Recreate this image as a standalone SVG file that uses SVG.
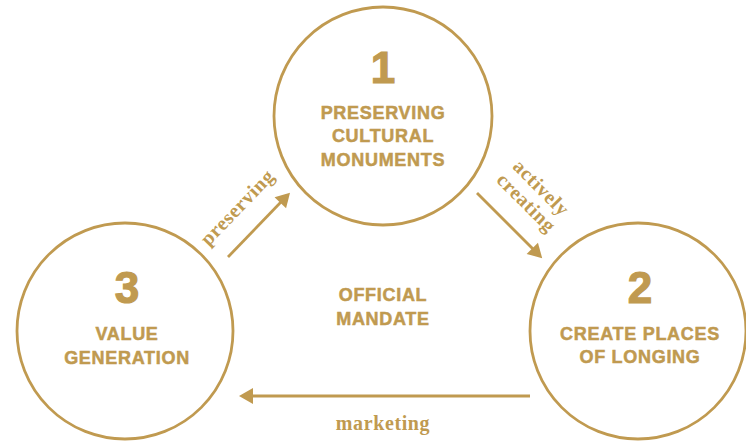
<svg xmlns="http://www.w3.org/2000/svg" width="746" height="441" viewBox="0 0 746 441">
<style>
.c{fill:none;stroke:#C09A50;stroke-width:2.8}
.num{font-family:"Liberation Sans",Arial,sans-serif;font-weight:bold;font-size:44px;fill:#C09A50;stroke:#C09A50;stroke-width:1.2;text-anchor:middle}
.t{font-family:"Liberation Sans",Arial,sans-serif;font-weight:bold;font-size:18px;fill:#C09A50;stroke:#C09A50;stroke-width:0.5;text-anchor:middle;letter-spacing:0.7px}
.l{font-family:"Liberation Serif","Times New Roman",serif;font-weight:bold;font-size:20px;fill:#C09A50;text-anchor:middle;letter-spacing:0.6px}
.a{fill:none;stroke:#C09A50;stroke-width:2.8}
</style>
<defs>
<marker id="ah" markerUnits="userSpaceOnUse" viewBox="0 -8 14 16" markerWidth="14" markerHeight="16" refX="1" refY="0" orient="auto" overflow="visible">
<path d="M0,-8 L14,0 L0,8 z" fill="#C09A50"/>
</marker>
</defs>
<rect width="746" height="441" fill="#ffffff"/>
<g id="node1">
<circle class="c" cx="383" cy="116" r="109"/>
<text class="num" x="383" y="83">1</text>
<text class="t" x="383" y="119">PRESERVING</text>
<text class="t" x="383" y="142">CULTURAL</text>
<text class="t" x="383" y="166">MONUMENTS</text>
</g>
<g id="node2">
<circle class="c" cx="638" cy="331" r="108"/>
<text class="num" x="640" y="303">2</text>
<text class="t" x="640" y="340">CREATE PLACES</text>
<text class="t" x="640" y="363">OF LONGING</text>
</g>
<g id="node3">
<circle class="c" cx="125" cy="331" r="108"/>
<text class="num" x="127" y="303">3</text>
<text class="t" x="127" y="340">VALUE</text>
<text class="t" x="127" y="364">GENERATION</text>
</g>
<g id="center">
<text class="t" x="383" y="301">OFFICIAL</text>
<text class="t" x="383" y="325">MANDATE</text>
</g>
<g id="connectors">
<line class="a" x1="228" y1="257" x2="281" y2="202" marker-end="url(#ah)"/>
<line class="a" x1="477" y1="193" x2="533" y2="249" marker-end="url(#ah)"/>
<line class="a" x1="530" y1="396" x2="252" y2="396" marker-end="url(#ah)"/>
<text class="l" transform="translate(242,212) rotate(-46)" x="0" y="0">preserving</text>
<g transform="translate(533,196) rotate(45)">
<text class="l" x="0" y="-5">actively</text>
<text class="l" x="0" y="16">creating</text>
</g>
<text class="l" x="383" y="430">marketing</text>
</g>
</svg>
